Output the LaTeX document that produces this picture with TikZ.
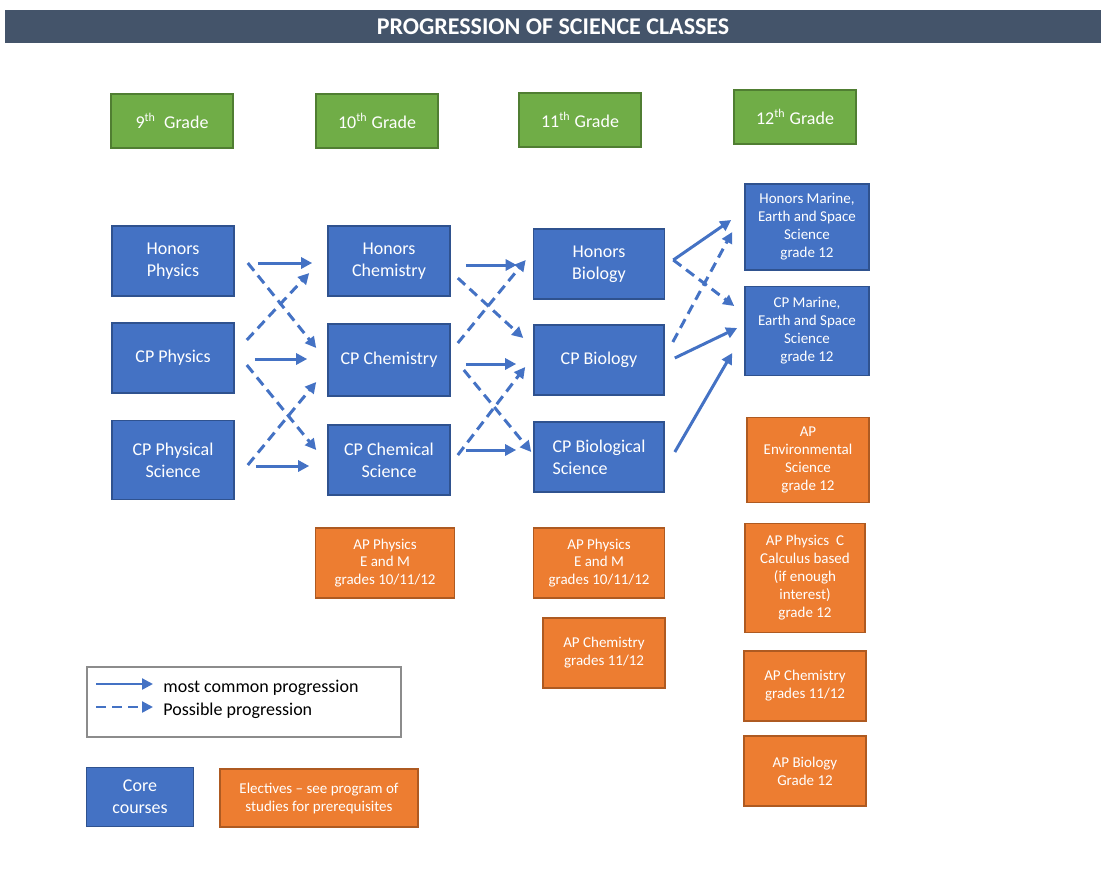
\documentclass[tikz,border=0pt]{standalone}
\usepackage{fontspec}
\setmainfont{Carlito}
\usetikzlibrary{arrows.meta,calc}

\definecolor{corefill}{HTML}{4472C4}
\definecolor{coreedge}{HTML}{2F528F}
\definecolor{elecfill}{HTML}{ED7D31}
\definecolor{elecedge}{HTML}{AE5A21}
\definecolor{gradefill}{HTML}{70AD47}
\definecolor{gradeedge}{HTML}{507E32}
\definecolor{titlebar}{HTML}{44546A}

\begin{document}
\begin{tikzpicture}[x=0.5pt, y=-0.5pt]
    \tikzstyle{box} = [rectangle, text=white, line width=0.8pt, align=center, inner sep=1pt]
    \tikzstyle{core} = [box, draw=coreedge, fill=corefill, minimum width=61pt, minimum height=35pt, font=\fontsize{9}{11}\selectfont]
    \tikzstyle{elec} = [box, draw=elecedge, fill=elecfill, minimum width=61pt, minimum height=35pt, font=\fontsize{7.5}{9}\selectfont]
    \tikzstyle{grade} = [box, draw=gradeedge, fill=gradefill, line width=1pt, minimum width=61pt, minimum height=27pt, font=\fontsize{9}{11}\selectfont]
    \tikzstyle{line} = [-{Triangle[length=5.5pt,width=5.5pt]}, draw=corefill, line width=1.5pt]
    \tikzstyle{maybe} = [line, dash pattern=on 5pt off 3pt]

    \useasboundingbox (0,0) rectangle (1101,894);

    % title bar
    \node(title) [rectangle, fill=titlebar, text=white, minimum width=548pt, minimum height=16.5pt,
        font=\fontsize{12}{14}\bfseries] at (553,26.5) {PROGRESSION OF SCIENCE CLASSES};

    % grades
    \node(grade9) [grade] at (172,121) {9\textsuperscript{th}\ \ Grade};
    \node(grade10) [grade] at (377,121) {10\textsuperscript{th} Grade};
    \node(grade11) [grade] at (580,120) {11\textsuperscript{th} Grade};
    \node(grade12) [grade] at (795,117) {12\textsuperscript{th} Grade};

    % 9th grade
    \node(hphys) [core] at (173,261) {Honors\\ Physics};
    \node(cpphys) [core, below of=hphys, node distance=48.5pt] {CP Physics};
    \node(cpphsc) [core, below of=cpphys, node distance=51pt, minimum height=39.5pt] {CP Physical\\ Science};

    % 10th grade
    \node(hchem) [core] at (389,261) {Honors\\ Chemistry};
    \node(cpchem) [core, below of=hchem, node distance=49.5pt, minimum height=36pt] {CP Chemistry};
    \node(cpchsc) [core, below of=cpchem, node distance=50pt] {CP Chemical\\ Science};
    \node(apem10) [elec, minimum width=69.5pt, font=\fontsize{7.5}{8.75}\selectfont] at (385,563)
    {AP Physics\\ E and M\\ grades 10/11/12};

    % 11th grade
    \node(hbio) [core, minimum width=65.5pt] at (599,264) {Honors\\ Biology};
    \node(cpbio) [core, minimum width=65pt, below of=hbio, node distance=48pt] {CP Biology};
    \node(cpbsc) [core, minimum width=65pt, below of=cpbio, node distance=48.5pt, align=left]
    {CP Biological\\ Science};
    \node(apem11) [elec, minimum width=65.5pt, font=\fontsize{7.5}{8.75}\selectfont] at (599,563)
    {AP Physics\\ E and M\\ grades 10/11/12};
    \node(apchem11) [elec] at (604,653) {AP Chemistry\\ grades 11/12};

    % 12th grade
    \node(hmes) [core, minimum width=62pt, minimum height=43pt, font=\fontsize{7.5}{9}\selectfont] at (807,227)
    {Honors Marine,\\ Earth and Space\\ Science\\ grade 12};
    \node(cpmes) [core, minimum width=62pt, minimum height=44.5pt, font=\fontsize{7.5}{9}\selectfont,
    below of=hmes, node distance=52pt] {CP Marine,\\ Earth and Space\\ Science\\ grade 12};
    \node(apenv) [elec, minimum height=42.5pt] at (808,460) {AP\\ Environmental\\ Science\\ grade 12};
    \node(apphysc) [elec, minimum width=60pt, minimum height=54.5pt] at (805,578)
    {AP Physics\ \ C\\ Calculus based\\ (if enough\\ interest)\\ grade 12};
    \node(apchem12) [elec, below of=apphysc, node distance=54pt] {AP Chemistry\\ grades 11/12};
    \node(apbio) [elec, below of=apchem12, node distance=42.5pt] {AP Biology\\ Grade 12};

    % 9th to 10th
    \draw[line] ([shift={(23,2)}]hphys.east) -- ([shift={(-15,2)}]hchem.west);
    \draw[maybe] ([shift={(13,2)}]hphys.east) -- ([shift={(-11,-12)}]cpchem.west);
    \draw[maybe] ([shift={(12,-18)}]cpphys.east) -- ([shift={(-18,12)}]hchem.west);
    \draw[line] ([shift={(20,1)}]cpphys.east) -- ([shift={(-20,-1)}]cpchem.west);
    \draw[maybe] ([shift={(12,7)}]cpphys.east) -- ([shift={(-11,-10)}]cpchsc.west);
    \draw[maybe] ([shift={(13,5)}]cpphsc.east) -- ([shift={(-11,22)}]cpchem.west);
    \draw[line] ([shift={(21,6)}]cpphsc.east) -- ([shift={(-18,6)}]cpchsc.west);

    % 10th to 11th
    \draw[line] ([shift={(15,4)}]hchem.east) -- ([shift={(-16,1)}]hbio.west);
    \draw[maybe] ([shift={(7,17)}]hchem.east) -- ([shift={(-10,-22)}]cpbio.west);
    \draw[maybe] ([shift={(7,-17)}]cpchem.east) -- ([shift={(-7,-4)}]hbio.west);
    \draw[line] ([shift={(15,4)}]cpchem.east) -- ([shift={(-17,4)}]cpbio.west);
    \draw[maybe] ([shift={(13,10)}]cpchem.east) -- ([shift={(-2,-5)}]cpbsc.west);
    \draw[maybe] ([shift={(7,-5)}]cpchsc.east) -- ([shift={(-8,7)}]cpbio.west);
    \draw[line] ([shift={(15,-10)}]cpchsc.east) -- ([shift={(-17,-7)}]cpbsc.west);

    % 11th to 12th
    \draw[line] ([shift={(8,-4)}]hbio.east) -- ([shift={(-13,-7)}]hmes.west);
    \draw[maybe] ([shift={(8,-4)}]hbio.east) -- ([shift={(-10,-25)}]cpmes.west);
    \draw[maybe] ([shift={(8,-18)}]cpbio.east) -- ([shift={(-12,5)}]hmes.west);
    \draw[line] ([shift={(10,-2)}]cpbio.east) -- ([shift={(-7,-3)}]cpmes.west);
    \draw[line] ([shift={(10,-5)}]cpbsc.east) -- ([shift={(-12,22)}]cpmes.west);

    % legend
    \node(legend) [rectangle, draw=black!45, line width=0.6pt, minimum width=157pt, minimum height=35pt] at (244,702) {};
    \node(common) [anchor=west, inner sep=0pt, font=\fontsize{9}{11}\selectfont] at (163,688) {most common progression};
    \node(possible) [anchor=west, inner sep=0pt, font=\fontsize{9}{11}\selectfont] at (163,711) {Possible progression};
    \draw[line, line width=1.2pt] ([shift={(-67,-4)}]common.west) -- ([shift={(-10,-4)}]common.west);
    \draw[maybe, line width=1.2pt] ([shift={(-67,-4)}]possible.west) -- ([shift={(-10,-4)}]possible.west);

    \node(corekey) [core, minimum width=53.5pt, minimum height=29.5pt] at (140,797) {Core\\ courses};
    \node(electives) [elec, minimum width=99pt, minimum height=29pt] at (319,798)
    {Electives -- see program of\\ studies for prerequisites};
\end{tikzpicture}
\end{document}
